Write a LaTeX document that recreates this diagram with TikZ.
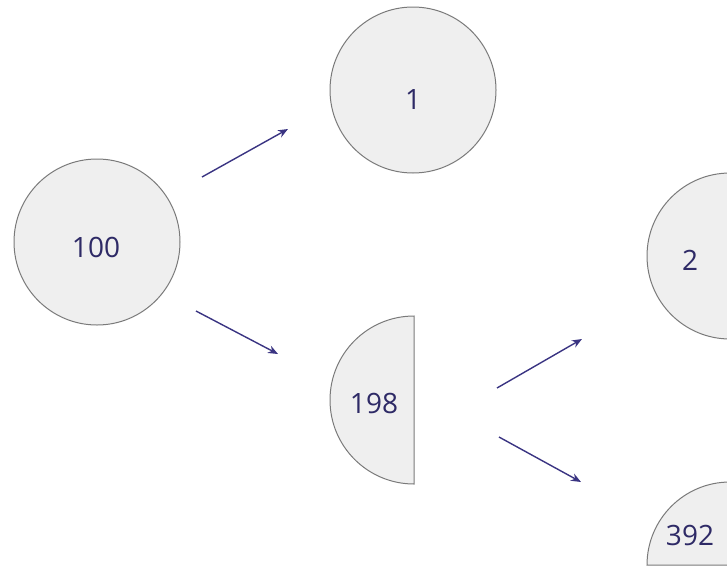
\documentclass[tikz,border=0pt]{standalone}
\usepackage{fontspec}
\setmainfont{Open Sans}
\usetikzlibrary{arrows.meta}
\definecolor{ink}{HTML}{2E2A66}
\definecolor{arrowc}{HTML}{3A3482}
\definecolor{discfill}{HTML}{EFEFEF}
\definecolor{discline}{HTML}{7A7A7A}
\tikzset{
  disc/.style={fill=discfill, draw=discline, line width=1pt},
  numlabel/.style={text=ink, font=\fontsize{28}{30}\selectfont, inner sep=0pt},
  flow/.style={draw=arrowc, line width=1.4pt, -{Stealth[length=10pt,width=8pt]}},
}
\begin{document}
\begin{tikzpicture}[x=1pt,y=-1pt]
\useasboundingbox (0,0) rectangle (727,568);
\clip (0,0) rectangle (727,568);

% full discs
\draw[disc] (97,242) circle[radius=83];
\draw[disc] (413,90) circle[radius=83];
\draw[disc] (730,256) circle[radius=83];
% half discs
\draw[disc] (414,316) arc[start angle=-90, end angle=-270, radius=84] -- cycle;
\draw[disc] (647,565) arc[start angle=180, end angle=360, radius=83] -- cycle;

% labels
\node[numlabel] (n100) at (96,247) {100};
\node[numlabel] (n1) at (413,100) {1};
\node[numlabel] (n198) at (374,403) {198};
\node[numlabel] (n2) at (690,260) {2};
\node[numlabel] (n392) at (690,535) {392};

% arrow ends
\coordinate (a1s) at (202,177); \coordinate (a1e) at (288,129);
\coordinate (a2s) at (196,311); \coordinate (a2e) at (278,354);
\coordinate (a3s) at (497,388); \coordinate (a3e) at (582,339);
\coordinate (a4s) at (499,437); \coordinate (a4e) at (581,482);

\draw[flow] (a1s) -- (a1e);
\draw[flow] (a2s) -- (a2e);
\draw[flow] (a3s) -- (a3e);
\draw[flow] (a4s) -- (a4e);
\end{tikzpicture}
\end{document}
